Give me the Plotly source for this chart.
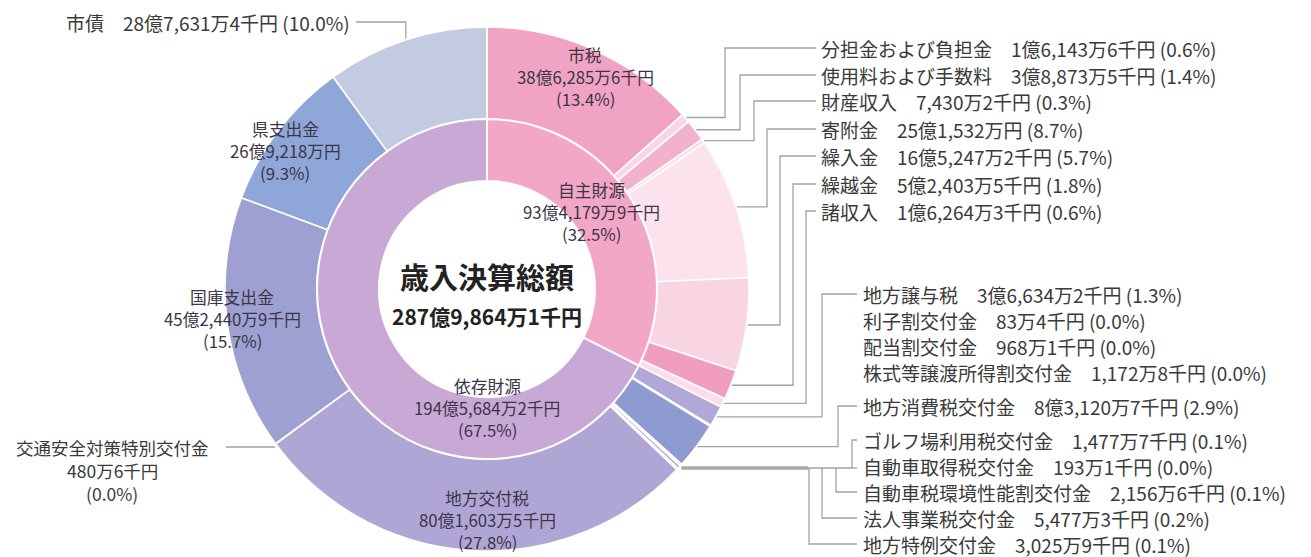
import math
import plotly.graph_objects as go

# ---------------- data (千円) ----------------
total_label = "287億9,864万1千円"
title_label = "歳入決算総額"

group_names = ["自主財源", "依存財源"]
group_values = [9341799, 19456842]
group_amounts = ["93億4,179万9千円", "194億5,684万2千円"]
group_pcts = ["32.5%", "67.5%"]

item_names = [
    "市税", "分担金および負担金", "使用料および手数料", "財産収入", "寄附金",
    "繰入金", "繰越金", "諸収入",
    "地方譲与税", "利子割交付金", "配当割交付金", "株式等譲渡所得割交付金",
    "地方消費税交付金", "ゴルフ場利用税交付金", "自動車取得税交付金",
    "自動車税環境性能割交付金", "法人事業税交付金", "地方特例交付金",
    "地方交付税", "交通安全対策特別交付金", "国庫支出金", "県支出金", "市債",
]
item_values = [
    3862856, 161436, 388735, 74302, 2515320,
    1652472, 524035, 162643,
    366342, 834, 9681, 11728,
    831207, 14777, 1931,
    21566, 54773, 30259,
    8016035, 4806, 4524409, 2692180, 2876314,
]
item_amounts = [
    "38億6,285万6千円", "1億6,143万6千円", "3億8,873万5千円", "7,430万2千円", "25億1,532万円",
    "16億5,247万2千円", "5億2,403万5千円", "1億6,264万3千円",
    "3億6,634万2千円", "83万4千円", "968万1千円", "1,172万8千円",
    "8億3,120万7千円", "1,477万7千円", "193万1千円",
    "2,156万6千円", "5,477万3千円", "3,025万9千円",
    "80億1,603万5千円", "480万6千円", "45億2,440万9千円", "26億9,218万円", "28億7,631万4千円",
]
item_pcts = [
    "13.4%", "0.6%", "1.4%", "0.3%", "8.7%",
    "5.7%", "1.8%", "0.6%",
    "1.3%", "0.0%", "0.0%", "0.0%",
    "2.9%", "0.1%", "0.0%",
    "0.1%", "0.2%", "0.1%",
    "27.8%", "0.0%", "15.7%", "9.3%", "10.0%",
]

# ---------------- style ----------------
item_colors = [
    "#F1A3C4", "#FAD6E4", "#F3B2CB", "#FADDE8", "#FCE2EC",
    "#F9D4E2", "#F09DC0", "#FBDDE8",
    "#B1A8DA", "#CFC8E8", "#CFC8E8", "#CFC8E8",
    "#8E9BD0", "#A7A4D6", "#A7A4D6",
    "#A7A4D6", "#A7A4D6", "#A7A4D6",
    "#B0A6D6", "#A2A2D2", "#9DA0D1", "#8FA6D8", "#C3CBE1",
]
group_colors = ["#F3A7C7", "#C8A8D5"]

W, H = 1311, 557
CX, CY = 487, 289
R_OUT, R_MID, R_IN = 262, 170, 108
FONT = "Noto Sans CJK JP, Noto Sans, sans-serif"
TXT = "#3a3a3a"
LINE = "#a3a3a3"
LBL = 19
INS = 16.8

fig = go.Figure()

fig.update_layout(
    xaxis=dict(range=[0, W], visible=False, domain=[0, 1], fixedrange=True),
    yaxis=dict(range=[H, 0], visible=False, domain=[0, 1], fixedrange=True),
)

def dom(r):
    return dict(x=[(CX - r) / W, (CX + r) / W], y=[1 - (CY + r) / H, 1 - (CY - r) / H])

fig.add_trace(go.Pie(
    labels=item_names, values=item_values, sort=False, direction="clockwise",
    rotation=0, hole=R_MID / R_OUT, domain=dom(R_OUT), textinfo="none",
    marker=dict(colors=item_colors, line=dict(color="white", width=1.6)),
    showlegend=False, hoverinfo="label+percent",
))
fig.add_trace(go.Pie(
    labels=group_names, values=group_values, sort=False, direction="clockwise",
    rotation=0, hole=R_IN / R_MID, domain=dom(R_MID), textinfo="none",
    marker=dict(colors=group_colors, line=dict(color="white", width=2)),
    showlegend=False, hoverinfo="label+percent",
))

total = sum(item_values)
mid_frac = []
acc = 0
for v in item_values:
    mid_frac.append((acc + v / 2) / total)
    acc += v

def edge_point(i, r=R_OUT + 1):
    th = 2 * math.pi * mid_frac[i]
    return CX + r * math.sin(th), CY - r * math.cos(th)

idx = {n: i for i, n in enumerate(item_names)}
annotations = []
lines_x, lines_y = [], []

def add_path(pts):
    for x, y in pts:
        lines_x.append(x)
        lines_y.append(y)
    lines_x.append(None)
    lines_y.append(None)

def label_text(i):
    return f"{item_names[i]}　{item_amounts[i]} ({item_pcts[i]})"

def side_label(text, x, y, anchor):
    annotations.append(dict(x=x, y=y, text=text, xanchor=anchor, yanchor="middle",
                            showarrow=False, font=dict(size=LBL, color=TXT, family=FONT)))

# upper right group
upper = [("分担金および負担金", 48, 725), ("使用料および手数料", 75, 740),
         ("財産収入", 101, 754), ("寄附金", 129, 767), ("繰入金", 156, 780),
         ("繰越金", 184, 793), ("諸収入", 211, 806)]
for name, ly, ex in upper:
    i = idx[name]
    sx, sy = edge_point(i)
    add_path([(sx, sy), (ex, sy), (ex, ly), (816, ly)])
    side_label(label_text(i), 819, ly, "left")

# lower right group
LX = 861
lower_labels = [("地方譲与税", 294), ("利子割交付金", 320), ("配当割交付金", 346),
                ("株式等譲渡所得割交付金", 372), ("地方消費税交付金", 406),
                ("ゴルフ場利用税交付金", 440), ("自動車取得税交付金", 466),
                ("自動車税環境性能割交付金", 492), ("法人事業税交付金", 518),
                ("地方特例交付金", 544)]
for name, ly in lower_labels:
    side_label(label_text(idx[name]), LX, ly, "left")

sx, sy = edge_point(idx["地方譲与税"])
add_path([(sx, sy), (822, sy), (822, 294), (LX - 4, 294)])
sx, sy = edge_point(idx["地方消費税交付金"])
add_path([(sx, sy), (838, sy), (838, 406), (LX - 4, 406)])

# bundle of tiny slices
bundle = [idx[n] for n in ["ゴルフ場利用税交付金", "自動車取得税交付金", "自動車税環境性能割交付金",
                           "法人事業税交付金", "地方特例交付金"]]
bx, by = edge_point(bundle[2])
BY = 468
fig.add_trace(go.Scatter(x=[bx, 808], y=[BY, BY], mode="lines", line=dict(color="#a8a8a8", width=3.5),
                         hoverinfo="skip", showlegend=False))
add_path([(808, BY), (852, BY), (852, 440), (LX - 4, 440)])
add_path([(852, BY), (LX - 4, BY)])
add_path([(836, BY), (836, 492), (LX - 4, 492)])
add_path([(822, BY), (822, 518), (LX - 4, 518)])
add_path([(809, BY), (809, 544), (LX - 4, 544)])

# left labels
i = idx["市債"]
sx, sy = edge_point(i)
add_path([(356, 22), (sx, 22), (sx, sy)])
side_label(f"{item_names[i]}　{item_amounts[i]} ({item_pcts[i]})", 352, 22, "right")

i = idx["交通安全対策特別交付金"]
sx, sy = edge_point(i)
add_path([(226, 447), (sx, 447)])
for k, t in enumerate([item_names[i], item_amounts[i], f"({item_pcts[i]})"]):
    annotations.append(dict(x=112, y=447 + 23 * k, text=t, xanchor="center", yanchor="middle",
                            showarrow=False, font=dict(size=17.5, color=TXT, family=FONT)))

fig.add_trace(go.Scatter(x=lines_x, y=lines_y, mode="lines", line=dict(color=LINE, width=1.3),
                         hoverinfo="skip", showlegend=False))

# in-slice labels (one annotation per line to control line spacing)
def inside(lines, x, y0, step=22):
    for k, t in enumerate(lines):
        annotations.append(dict(x=x, y=y0 + step * k, text=t, xanchor="center", yanchor="middle",
                                showarrow=False, font=dict(size=INS, color="#3b3545", family=FONT)))

for name, x, y in [("市税", 585, 55), ("県支出金", 285, 129), ("国庫支出金", 232, 297), ("地方交付税", 487, 498)]:
    i = idx[name]
    inside([item_names[i], item_amounts[i], f"({item_pcts[i]})"], x, y)
for g, x, y in [(0, 591, 190), (1, 487, 386)]:
    inside([group_names[g], group_amounts[g], f"({group_pcts[g]})"], x, y)

annotations.append(dict(x=CX, y=276, text=f"<b>{title_label}</b>", showarrow=False,
                        font=dict(size=29, color="#222", family=FONT)))
annotations.append(dict(x=CX, y=316, text=f"<b>{total_label}</b>", showarrow=False,
                        font=dict(size=21, color="#222", family=FONT)))

for a in annotations:
    a["xref"] = "x"
    a["yref"] = "y"

fig.update_layout(
    width=W, height=H, margin=dict(l=0, r=0, t=0, b=0),
    paper_bgcolor="white", plot_bgcolor="rgba(0,0,0,0)",
    annotations=annotations, showlegend=False,
)
fig.write_html("out.html", config={"displayModeBar": False},
               post_script="document.body.style.margin='0';")
